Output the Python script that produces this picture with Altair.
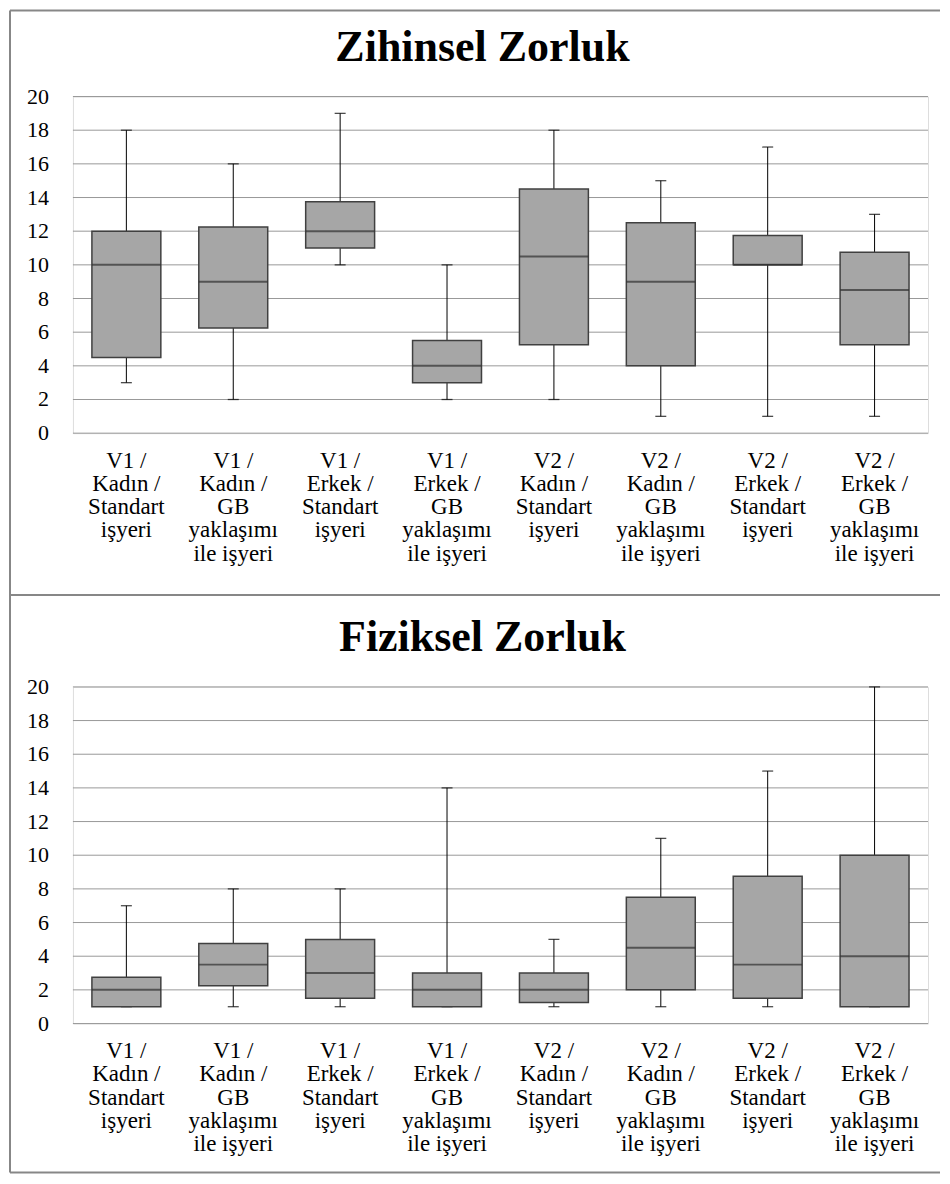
import altair as alt
import pandas as pd

categories = [
    "V1 /\nKadın /\nStandart\nişyeri",
    "V1 /\nKadın /\nGB\nyaklaşımı\nile işyeri",
    "V1 /\nErkek /\nStandart\nişyeri",
    "V1 /\nErkek /\nGB\nyaklaşımı\nile işyeri",
    "V2 /\nKadın /\nStandart\nişyeri",
    "V2 /\nKadın /\nGB\nyaklaşımı\nile işyeri",
    "V2 /\nErkek /\nStandart\nişyeri",
    "V2 /\nErkek /\nGB\nyaklaşımı\nile işyeri",
]

zihinsel_min = [3, 2, 10, 2, 2, 1, 1, 1]
zihinsel_q1 = [4.5, 6.25, 11, 3, 5.25, 4, 10, 5.25]
zihinsel_med = [10, 9, 12, 4, 10.5, 9, 10, 8.5]
zihinsel_q3 = [12, 12.25, 13.75, 5.5, 14.5, 12.5, 11.75, 10.75]
zihinsel_max = [18, 16, 19, 10, 18, 15, 17, 13]

fiziksel_min = [1, 1, 1, 1, 1, 1, 1, 1]
fiziksel_q1 = [1, 2.25, 1.5, 1, 1.25, 2, 1.5, 1]
fiziksel_med = [2, 3.5, 3, 2, 2, 4.5, 3.5, 4]
fiziksel_q3 = [2.75, 4.75, 5, 3, 3, 7.5, 8.75, 10]
fiziksel_max = [7, 8, 8, 14, 5, 11, 15, 20]

y_ticks = [0, 2, 4, 6, 8, 10, 12, 14, 16, 18, 20]

FONT = "Liberation Serif"
W, H = 856, 337
FRAME = "#878787"


def panel(title, mins, q1s, meds, q3s, maxs, top, bottom):
    df = pd.DataFrame({"cat": categories, "mn": mins, "q1": q1s,
                       "med": meds, "q3": q3s, "mx": maxs})
    base = alt.Chart(df)
    xaxis = alt.Axis(title=None, labelAngle=0, ticks=False, domain=False,
                     labelExpr="split(datum.label, '\\n')",
                     labelFont=FONT, labelFontSize=23, labelLineHeight=23.3,
                     labelColor="black", labelPadding=16,
                     labelBaseline="top", labelOverlap=False)
    xscale = alt.Scale(paddingInner=0, paddingOuter=0)
    yscale = alt.Scale(domain=[0, 20], nice=False, zero=True)

    def X():
        return alt.X("cat:N", sort=categories, scale=xscale, axis=xaxis)

    def Y(f):
        return alt.Y(f, scale=yscale, axis=None)

    tk = alt.Chart(pd.DataFrame({"v": y_ticks}))
    grid = tk.mark_rule(color="#999999", strokeWidth=1).encode(
        y=Y("v:Q"), x=alt.value(0), x2=alt.value(W))
    ylab = tk.mark_text(font=FONT, fontSize=22, color="black", align="right",
                        baseline="middle").encode(
        y=Y("v:Q"), x=alt.value(-24), text="v:Q")

    whisk = base.mark_rule(color="black", strokeWidth=1).encode(
        x=X(), y=Y("mn:Q"), y2="mx:Q")
    cap_lo = base.mark_tick(color="black", size=11, thickness=1.3).encode(
        x=X(), y=Y("mn:Q"))
    cap_hi = base.mark_tick(color="black", size=11, thickness=1.3).encode(
        x=X(), y=Y("mx:Q"))
    box = base.mark_bar(size=69, color="#a6a6a6", stroke="#404040",
                        strokeWidth=1.5).encode(
        x=X(), y=Y("q1:Q"), y2="q3:Q")
    med = base.mark_tick(color="#303030", size=69, thickness=2).encode(
        x=X(), y=Y("med:Q"))

    fr = alt.Chart(pd.DataFrame({"title": [title]}))
    ttl = fr.mark_text(font=FONT, fontSize=44, fontWeight="bold", color="black",
                       align="center", baseline="alphabetic").encode(
        text="title:N", x=alt.value(410), y=alt.value(-36))
    left = fr.mark_rule(color=FRAME, strokeWidth=2).encode(
        x=alt.value(-63), x2=alt.value(-63), y=alt.value(top), y2=alt.value(bottom))
    htop = fr.mark_rule(color=FRAME, strokeWidth=2).encode(
        x=alt.value(-63), x2=alt.value(868), y=alt.value(top), y2=alt.value(top))
    hbot = fr.mark_rule(color=FRAME, strokeWidth=2).encode(
        x=alt.value(-63), x2=alt.value(868), y=alt.value(bottom), y2=alt.value(bottom))

    return alt.layer(grid, ylab, whisk, cap_lo, cap_hi, box, med,
                     ttl, left, htop, hbot).properties(width=W, height=H)


p1 = panel("Zihinsel Zorluk", zihinsel_min, zihinsel_q1, zihinsel_med,
           zihinsel_q3, zihinsel_max, -86, 499)
p2 = panel("Fiziksel Zorluk", fiziksel_min, fiziksel_q1, fiziksel_med,
           fiziksel_q3, fiziksel_max, -92, 486)

chart = alt.vconcat(p1, p2, spacing=254, bounds="flush").properties(
    padding={"left": 0, "top": 0, "right": 0, "bottom": 0}
).configure_view(stroke="#b5b5b5", strokeWidth=1).configure_axis(
    labelFont=FONT, labelColor="black"
).configure(background="white")

chart.save("out.html", embed_options={"renderer": "svg", "actions": False})
